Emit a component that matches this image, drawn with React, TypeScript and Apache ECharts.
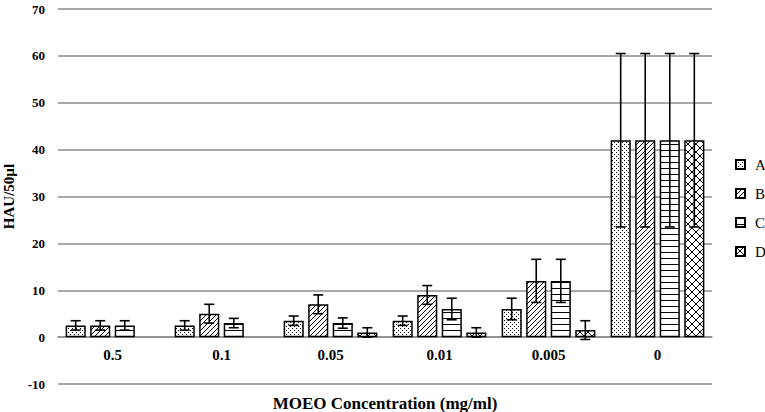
import React, { useEffect, useRef } from 'react';
import * as echarts from 'echarts';

const categories = ['0.5', '0.1', '0.05', '0.01', '0.005', '0'];
const seriesNames = ['A', 'B', 'C', 'D'];
const valuesA = [2.5, 2.5, 3.5, 3.5, 6, 42];
const errorsA = [1, 1, 1, 1, 2.3, 18.5];
const valuesB = [2.5, 5, 7, 9, 12, 42];
const errorsB = [1, 2, 2, 2, 4.6, 18.5];
const valuesC = [2.5, 3, 3, 6, 12, 42];
const errorsC = [1, 1, 1.1, 2.3, 4.6, 18.5];
const valuesD: (number | null)[] = [null, null, 1, 1, 1.5, 42];
const errorsD: (number | null)[] = [null, null, 1, 1, 2, 18.5];
const yMin = -10;
const yMax = 70;
const yInterval = 10;
const xTitle = 'MOEO Concentration (mg/ml)';
const yTitle = 'HAU/50µl';

const allValues = [valuesA, valuesB, valuesC, valuesD];
const allErrors = [errorsA, errorsB, errorsC, errorsD];
const patternKinds = ['dots', 'diag', 'horiz', 'cross'];

const FONT = "'Liberation Serif', 'Times New Roman', serif";
const BAR_GAP = 0.22;
const CAT_GAP = 0.14;
const GRID_TOP = 9;
const GRID_BOTTOM = 28;
const CHART_H = 412;

function makePattern(kind: string): HTMLCanvasElement {
  const c = document.createElement('canvas');
  let w = 6, h = 6;
  if (kind === 'dots') { w = 4; h = 4; }
  if (kind === 'diag') { w = 5; h = 5; }
  if (kind === 'horiz') { w = 6; h = 6; }
  if (kind === 'cross') { w = 8; h = 8; }
  c.width = w; c.height = h;
  const ctx = c.getContext('2d')!;
  ctx.fillStyle = '#fff';
  ctx.fillRect(0, 0, w, h);
  ctx.fillStyle = '#000';
  for (let x = 0; x < w; x++) {
    for (let y = 0; y < h; y++) {
      let on = false;
      if (kind === 'dots') on = (x === 0 && y === 0) || (x === 2 && y === 2);
      if (kind === 'diag') on = (x + y) % 5 === 0;
      if (kind === 'horiz') on = y === 0;
      if (kind === 'cross') on = x === y || x + y === 7;
      if (on) ctx.fillRect(x, y, 1, 1);
    }
  }
  return c;
}

export default function App() {
  const ref = useRef<HTMLDivElement>(null);
  useEffect(() => {
    if (!ref.current) return;
    const chart = echarts.init(ref.current, null, { renderer: 'svg' });
    const patterns = patternKinds.map((k) => makePattern(k));
    const n = seriesNames.length;
    const gridH = CHART_H - GRID_TOP - GRID_BOTTOM;
    const zeroOffset = (gridH * (0 - yMin)) / (yMax - yMin);

    const barSeries = seriesNames.map((name, si) => ({
      name,
      type: 'bar',
      barGap: BAR_GAP * 100 + '%',
      barCategoryGap: CAT_GAP * 100 + '%',
      data: allValues[si].map((v) => (v == null ? '-' : v)),
      itemStyle: {
        color: { image: patterns[si], repeat: 'repeat' },
        borderColor: '#000',
        borderWidth: 1.5,
      },
      z: 2,
    }));

    const errSeries = seriesNames.map((name, si) => ({
      name: 'err' + name,
      type: 'custom',
      z: 5,
      data: allValues[si]
        .map((v, i) => (v == null || allErrors[si][i] == null ? null : [i, v, allErrors[si][i]]))
        .filter((d) => d != null),
      renderItem: (params: any, api: any) => {
        const idx = api.value(0);
        const v = api.value(1);
        const e = api.value(2);
        const band = api.size([1, 0])[0];
        const usable = band * (1 - CAT_GAP);
        const bw = usable / (n + (n - 1) * BAR_GAP);
        const c = api.coord([idx, v]);
        const x = c[0] - usable / 2 + si * bw * (1 + BAR_GAP) + bw / 2;
        const top = api.coord([idx, v + e])[1];
        const bot = api.coord([idx, v - e])[1];
        const cap = 5;
        const st = { stroke: '#000', lineWidth: 1.6 };
        return {
          type: 'group',
          children: [
            { type: 'line', shape: { x1: x, y1: top, x2: x, y2: bot }, style: st },
            { type: 'line', shape: { x1: x - cap, y1: top, x2: x + cap, y2: top }, style: st },
            { type: 'line', shape: { x1: x - cap, y1: bot, x2: x + cap, y2: bot }, style: st },
          ],
        };
      },
    }));

    chart.setOption({
      animation: false,
      backgroundColor: '#fff',
      grid: { left: 58, right: 53, top: GRID_TOP, bottom: GRID_BOTTOM, containLabel: false, outerBoundsMode: 'none' },
      legend: {
        orient: 'vertical',
        left: 730,
        top: 152,
        icon: 'rect',
        itemWidth: 9,
        itemHeight: 9,
        itemGap: 14,
        data: seriesNames.map((name) => ({
          name,
          itemStyle: { borderColor: '#000', borderWidth: 2 },
        })),
        textStyle: { fontFamily: FONT, fontSize: 15, color: '#000', padding: [0, 0, 0, 5] },
        selectedMode: false,
      },
      xAxis: {
        type: 'category',
        data: categories,
        offset: -zeroOffset,
        axisLine: { show: true, onZero: false, lineStyle: { color: '#8c8c8c', width: 1.5 } },
        axisTick: { show: false },
        axisLabel: { fontFamily: FONT, fontSize: 15, fontWeight: 'bold', color: '#000', margin: 10 },
        name: xTitle,
        nameLocation: 'middle',
        nameGap: 58,
        nameTextStyle: { fontFamily: FONT, fontSize: 17, fontWeight: 'bold', color: '#000' },
      },
      yAxis: {
        type: 'value',
        min: yMin,
        max: yMax,
        interval: yInterval,
        axisLine: { show: false },
        axisTick: { show: false },
        axisLabel: { fontFamily: FONT, fontSize: 13, fontWeight: 'bold', color: '#000', margin: 13 },
        splitLine: { lineStyle: { color: '#8c8c8c', width: 1.5 } },
        name: yTitle,
        nameLocation: 'middle',
        nameGap: 33,
        nameRotate: 90,
        nameTextStyle: { fontFamily: FONT, fontSize: 15, fontWeight: 'bold', color: '#000' },
      },
      series: [...barSeries, ...errSeries],
    } as any);
    return () => chart.dispose();
  }, []);
  return <div ref={ref} style={{ width: 765, height: 412, position: 'absolute', left: 0, top: 0 }} />;
}
